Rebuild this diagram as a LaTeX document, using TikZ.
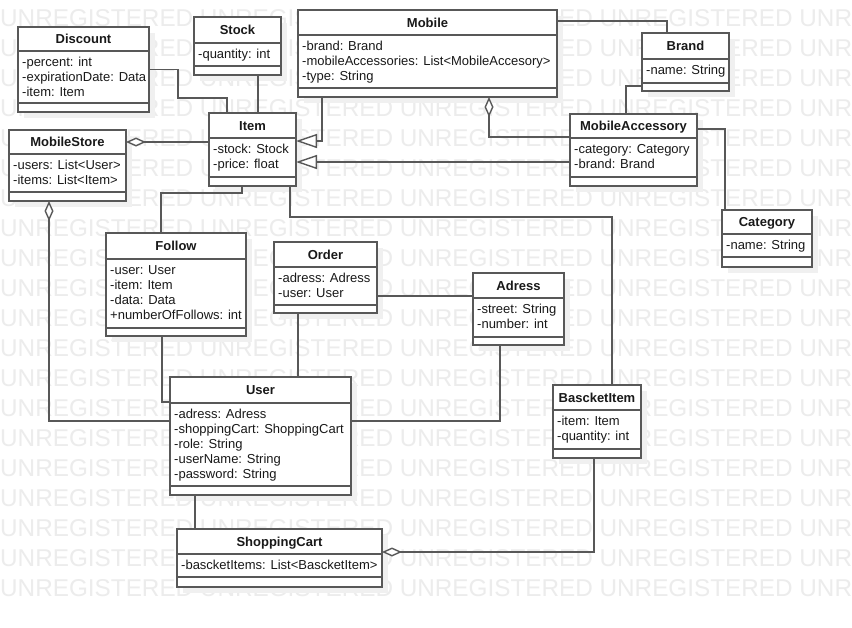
\documentclass[tikz,border=0pt]{standalone}
\usepackage{fontspec}
\setmainfont{Liberation Sans}
\usetikzlibrary{calc,arrows.meta}
\definecolor{linec}{RGB}{88,88,88}
\definecolor{wmc}{RGB}{236,236,236}
\definecolor{shadc}{RGB}{240,240,240}
\definecolor{txtc}{RGB}{25,25,25}
\tikzset{
  wm/.style={anchor=base west, inner sep=0pt, text=wmc, font=\fontsize{24.3}{26}\selectfont},
  clsbox/.style={draw=linec, line width=1.6pt, fill=white, inner sep=0pt, outer sep=0pt},
  sepline/.style={draw=linec, line width=1.6pt},
  clstitle/.style={anchor=base, inner sep=0pt, text=txtc, font=\fontsize{13}{15}\selectfont\bfseries},
  clsattr/.style={anchor=north west, align=left, inner sep=0pt, text=txtc, font=\fontsize{13}{15}\selectfont},
  conn/.style={draw=linec, line width=1.6pt},
  agg/.style={{Diamond[length=20pt, width=9pt, fill=white, line width=1.4pt]}-},
  gen/.style={-{Triangle[length=21pt, width=14pt, fill=white, line width=1.4pt]}}
}
% name, x1, y1, x2, header y, separator y, y2, title, attributes
\newcommand{\umlclass}[9]{%
  \fill[shadc] ({#2+6},{#3+6}) rectangle ({#4+6},{#7+6});
  \node[clsbox, anchor=north west, minimum width={(#4-#2)*1pt}, minimum height={(#7-#3)*1pt}] (#1) at (#2,#3) {};
  \draw[sepline] (#2,#5) -- (#4,#5) (#2,#6) -- (#4,#6);
  \node[clstitle] (#1-t) at ({(#2+#4)/2},{(#3+#5)/2+4.7}) {#8};
  \node[clsattr] (#1-a) at ({#2+4},{#5+5}) {\rule{0pt}{10pt}#9};
}
\begin{document}
\begin{tikzpicture}[x=1pt,y=-1pt]
\useasboundingbox (0,0) rectangle (852,627);
\fill[white] (0,0) rectangle (852,627);
\foreach \k in {0,...,19}
  \node[wm] (wm\k) at (0,{26+30.05*\k}) {UNREGISTERED UNREGISTERED UNREGISTERED UNREGISTERED UNR};

\umlclass{discount}{18}{27}{149}{51}{103}{112}{Discount}{-percent: int\\-expirationDate: Data\\-item: Item}
\umlclass{stock}{194}{17}{281}{43}{66}{75}{Stock}{-quantity: int}
\umlclass{mobile}{298}{10}{557}{35}{88}{97}{Mobile}{-brand: Brand\\-mobileAccessories: List<MobileAccesory>\\-type: String}
\umlclass{brand}{642}{33}{729}{59}{83}{91}{Brand}{-name: String}
\umlclass{mobilestore}{9}{130}{126}{154}{192}{201}{MobileStore}{-users: List<User>\\-items: List<Item>}
\umlclass{item}{209}{113}{296}{138}{177}{186}{Item}{-stock: Stock\\-price: float}
\umlclass{mobileaccessory}{570}{114}{697}{138}{177}{186}{MobileAccessory}{-category: Category\\-brand: Brand}
\umlclass{category}{722}{210}{812}{234}{257}{267}{Category}{-name: String}
\umlclass{follow}{106}{233}{246}{259}{328}{336}{Follow}{-user: User\\-item: Item\\-data: Data\\+numberOfFollows: int}
\umlclass{order}{274}{242}{377}{267}{305}{313}{Order}{-adress: Adress\\-user: User}
\umlclass{adress}{473}{273}{564}{298}{337}{345}{Adress}{-street: String\\-number: int}
\umlclass{user}{170}{377}{351}{403}{486}{495}{User}{-adress: Adress\\-shoppingCart: ShoppingCart\\-role: String\\-userName: String\\-password: String}
\umlclass{bascketitem}{553}{385}{641}{410}{449}{458}{BascketItem}{-item: Item\\-quantity: int}
\umlclass{shoppingcart}{177}{529}{382}{554}{577}{587}{ShoppingCart}{-bascketItems: List<BascketItem>}

% connectors
\draw[conn] (discount.east) -| ++(29,28.5) -| ($(item.north west)+(18,0)$);
\draw[conn] ($(stock.south west)+(64,0)$) -- ($(item.north west)+(49,0)$);
\draw[conn,agg] ($(mobilestore.north east)+(0,12)$) coordinate (ms1) -- (ms1 -| item.west);
\draw[conn,gen] ($(mobile.south west)+(24,0)$) |- ($(item.north east)+(0,28)$);
\draw[conn,gen] ($(mobileaccessory.north west)+(0,48)$) coordinate (ma1) -- (ma1 -| item.east);
\draw[conn,agg] ($(mobile.south west)+(191,0)$) |- ($(mobileaccessory.north west)+(0,23)$);
\draw[conn] ($(mobile.north east)+(0,11)$) -| ($(brand.north west)+(25,0)$);
\draw[conn] ($(brand.south west)+(0,-5)$) -| ($(mobileaccessory.north west)+(56,0)$);
\draw[conn] ($(mobileaccessory.north east)+(0,15)$) -| ($(category.north west)+(3,0)$);
\draw[conn] ($(item.south west)+(33,0)$) -- ++(0,7) -| ($(follow.north west)+(55,0)$);
\draw[conn] ($(item.south west)+(81,0)$) -- ++(0,31) -| ($(bascketitem.north west)+(59,0)$);
\draw[conn,agg] ($(mobilestore.south west)+(40,0)$) |- ($(user.north west)+(0,44)$);
\draw[conn] ($(follow.south west)+(56,0)$) |- ($(user.north west)+(0,25)$);
\draw[conn] ($(order.south west)+(24,0)$) -- ($(user.north west)+(128,0)$);
\draw[conn] ($(order.north east)+(0,54)$) coordinate (o1) -- (o1 -| adress.west);
\draw[conn] ($(adress.south west)+(27,0)$) |- ($(user.north east)+(0,44)$);
\draw[conn] ($(user.south west)+(25,0)$) -- ($(shoppingcart.north west)+(18,0)$);
\draw[conn,agg] ($(shoppingcart.north east)+(0,23)$) -| ($(bascketitem.south west)+(41,0)$);
\end{tikzpicture}
\end{document}
